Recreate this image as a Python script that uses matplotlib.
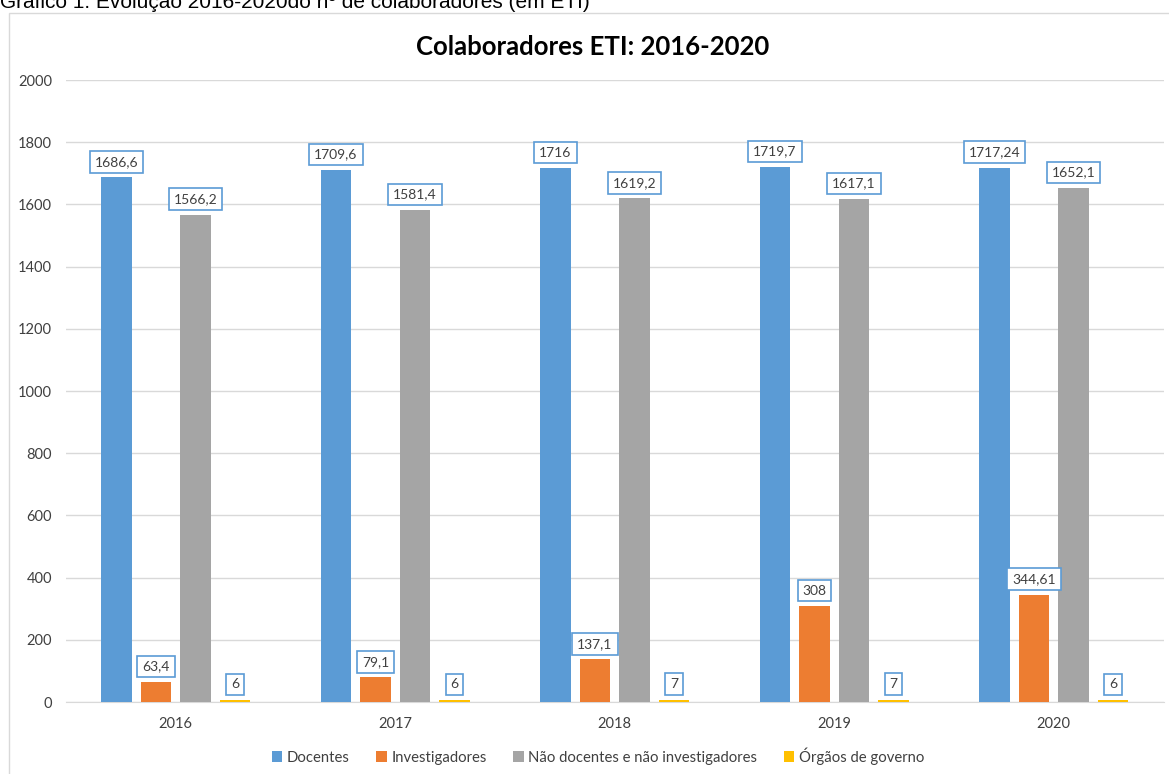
import numpy as np
import matplotlib.pyplot as plt
from matplotlib.patches import Rectangle

##Data##
anos = ["2016", "2017", "2018", "2019", "2020"]
docentes = [1686.6, 1709.6, 1716, 1719.7, 1717.24]
investigadores = [63.4, 79.1, 137.1, 308, 344.61]
nao_docentes = [1566.2, 1581.4, 1619.2, 1617.1, 1652.1]
orgaos = [6, 6, 7, 7, 6]
yticks = [0, 200, 400, 600, 800, 1000, 1200, 1400, 1600, 1800, 2000]

series = [
    ("Docentes", docentes, "#5B9BD5"),
    ("Investigadores", investigadores, "#ED7D31"),
    ("Não docentes e não investigadores", nao_docentes, "#A5A5A5"),
    ("Órgãos de governo", orgaos, "#FFC000"),
]

def fmt(v):
    s = ("%.2f" % v).rstrip("0").rstrip(".")
    return s.replace(".", ",")

plt.rcParams['font.family'] = ['Lato', 'DejaVu Sans']

fig = plt.figure(figsize=(11.69, 7.74), dpi=100)
ax = fig.add_axes([0.0565, 0.093, 0.9388, 0.8036])

##Chart border (right and bottom edges fall outside the picture)##
fig.patches.append(Rectangle((9 / 1169, -0.02), 1.1, 1 - 13 / 774 + 0.02,
                             transform=fig.transFigure, fill=False,
                             edgecolor="#D9D9D9", linewidth=1.0, zorder=0))

x = np.arange(len(anos))
width = 0.14
step = 0.18
for i, (name, vals, color) in enumerate(series):
    offs = (i - 1.5) * step
    bars = ax.bar(x + offs, vals, width, color=color, label=name, zorder=3)
    for b, v in zip(bars, vals):
        ax.annotate(fmt(v), (b.get_x() + b.get_width() / 2, v),
                    xytext=(0, 7), textcoords="offset points",
                    ha="center", va="bottom", fontsize=10, color="#404040",
                    bbox=dict(boxstyle="square,pad=0.35", fc="white",
                              ec="#5B9BD5", lw=1.2), zorder=5)

##Axes style##
ax.set_xlim(-0.5, len(anos) - 0.5)
ax.set_ylim(0, 2000)
ax.set_yticks(yticks)
ax.set_xticks(x)
ax.set_xticklabels(anos)
ax.tick_params(axis="both", length=0, labelsize=10.5, labelcolor="#404040")
ax.tick_params(axis="x", pad=11)
ax.tick_params(axis="y", pad=10)
ax.grid(axis="y", color="#D9D9D9", linewidth=1.0, zorder=0)
for s in ["top", "right", "left"]:
    ax.spines[s].set_visible(False)
ax.spines["bottom"].set_color("#D9D9D9")

##Titles##
fig.text(593 / 1169, 1 - 47 / 774, "Colaboradores ETI: 2016-2020", ha="center",
         va="center", fontsize=18.5, fontweight="bold", color="black")
fig.text(0.0, 1 - 8 / 774, "Gráfico 1: Evolução 2016-2020do nº de colaboradores (em ETI)",
         ha="left", va="baseline", fontsize=15, family="Liberation Sans", color="black")

##Legend##
fig.legend(loc="center", bbox_to_anchor=(598 / 1169, 18 / 774), ncol=4, frameon=False,
           fontsize=10.7, handlelength=0.7, handleheight=0.7, handletextpad=0.3,
           columnspacing=1.8, labelcolor="#404040")

fig.savefig("out.png", dpi=100)
